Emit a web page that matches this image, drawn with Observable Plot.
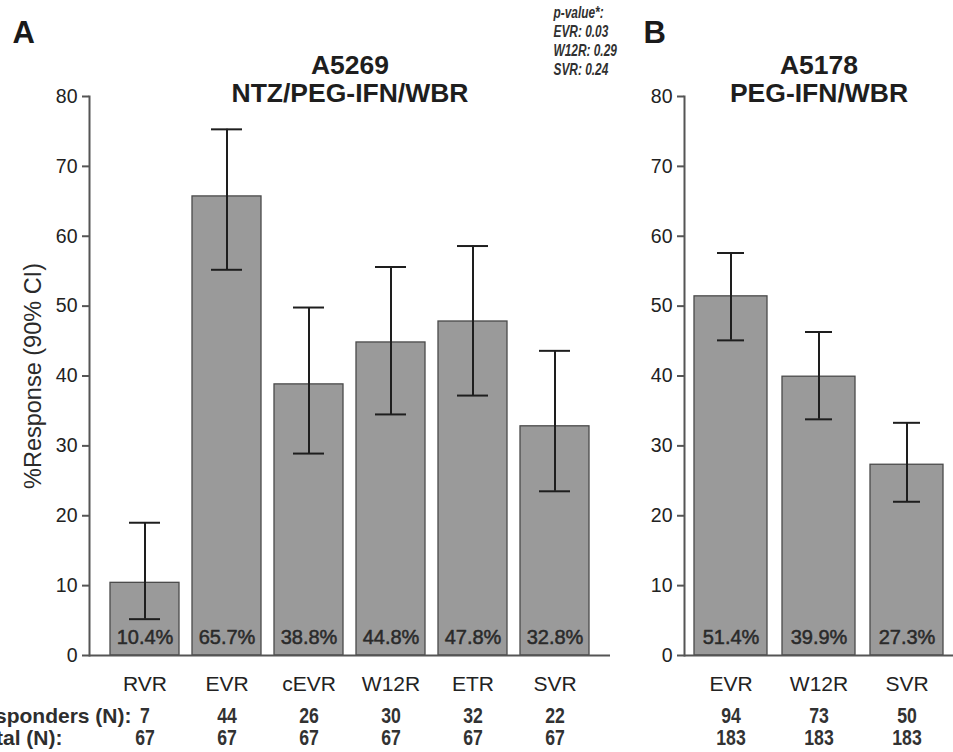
<!DOCTYPE html>
<html>
<head>
<meta charset="utf-8">
<script src="https://cdn.jsdelivr.net/npm/d3@7"></script>
<script src="https://cdn.jsdelivr.net/npm/@observablehq/plot@0.6"></script>
<style>
  body { margin: 0; background: #fff; }
  #wrap { position: relative; width: 953px; height: 752px; overflow: hidden; background: #fff; }
  #wrap svg { position: absolute; top: 0; overflow: visible; }
</style>
</head>
<body>
<div id="wrap"></div>
<script>
// ---- Panel A data (A5269 NTZ/PEG-IFN/WBR) ----
const catsA = ["RVR", "EVR", "cEVR", "W12R", "ETR", "SVR"];
const valsA = [10.4, 65.7, 38.8, 44.8, 47.8, 32.8];
const loA   = [5.2, 55.2, 28.9, 34.5, 37.2, 23.5];
const hiA   = [19.0, 75.3, 49.8, 55.6, 58.6, 43.6];
const respA = [7, 44, 26, 30, 32, 22];
const totA  = [67, 67, 67, 67, 67, 67];

// ---- Panel B data (A5178 PEG-IFN/WBR) ----
const catsB = ["EVR", "W12R", "SVR"];
const valsB = [51.4, 39.9, 27.3];
const loB   = [45.1, 33.8, 22.0];
const hiB   = [57.6, 46.3, 33.3];
const respB = [94, 73, 50];
const totB  = [183, 183, 183];

// ---- p-values ----
const pCats = ["EVR", "W12R", "SVR"];
const pVals = ["0.03", "0.29", "0.24"];

const yTicks = [0, 10, 20, 30, 40, 50, 60, 70, 80];

const FONT = "'Liberation Sans', Arial, Helvetica, sans-serif";
const NUMFILL = "#323232";   // marker colour for condensed texts (numbers)
const PFILL = "#313131";     // marker colour for condensed p-value texts

function rows(cats, vals, lo, hi, resp, tot) {
  return cats.map((c, i) => ({cat: c, val: vals[i], lo: lo[i], hi: hi[i], resp: resp[i], tot: tot[i]}));
}

function panel({data, cats, width, marginLeft, marginRight, padIn, padOut, capInset,
                letter, letterDx, title1, title2, yLabel, rowLabels, extra = []}) {
  return Plot.plot({
    width, height: 752,
    marginLeft, marginRight, marginTop: 96, marginBottom: 97,
    style: {fontFamily: FONT, color: "#222", background: "transparent"},
    x: {domain: cats, paddingInner: padIn, paddingOuter: padOut, axis: null},
    y: {domain: [0, 80], axis: null},
    marks: [
      Plot.barY(data, {x: "cat", y: "val", fill: "#9a9a9a", stroke: "#4a4a4a", strokeWidth: 1.3}),
      Plot.ruleX(data, {x: "cat", y1: "lo", y2: "hi", stroke: "#1e1e1e", strokeWidth: 2}),
      Plot.tickY(data, {x: "cat", y: "lo", stroke: "#1e1e1e", strokeWidth: 2, insetLeft: capInset, insetRight: capInset}),
      Plot.tickY(data, {x: "cat", y: "hi", stroke: "#1e1e1e", strokeWidth: 2, insetLeft: capInset, insetRight: capInset}),
      Plot.text(data, {x: "cat", y: 0, text: d => d.val.toFixed(1) + "%", dy: -18, lineAnchor: "middle",
                       fontSize: 20, fill: "#2a2a2a", stroke: "#2a2a2a", strokeWidth: 0.5}),
      Plot.frame({anchor: "left", stroke: "#555", strokeWidth: 2}),
      Plot.ruleY([0], {stroke: "#555", strokeWidth: 2}),
      Plot.axisY({ticks: yTicks, tickSize: 7, tickPadding: 5, fontSize: 19.5, stroke: "#555", strokeWidth: 2, fill: "#222", label: null}),
      Plot.axisX({tickSize: 0, tickPadding: 21, fontSize: 21, fill: "#222", label: null}),
      Plot.text(data, {x: "cat", frameAnchor: "bottom", text: "resp", dy: 61, lineAnchor: "middle",
                       fontWeight: "bold", fontSize: 21.5, fill: NUMFILL}),
      Plot.text(data, {x: "cat", frameAnchor: "bottom", text: "tot", dy: 83, lineAnchor: "middle",
                       fontWeight: "bold", fontSize: 21.5, fill: NUMFILL}),
      Plot.text([letter], {frameAnchor: "top-left", dx: letterDx, dy: -54, textAnchor: "start", lineAnchor: "bottom",
                           fontSize: 31, fontWeight: "bold", fill: "#1a1a1a"}),
      Plot.text([title1], {frameAnchor: "top", dy: -23, lineAnchor: "bottom", fontSize: 26.5, fontWeight: "bold", fill: "#1e1e1e"}),
      Plot.text([title2], {frameAnchor: "top", dy: 5, lineAnchor: "bottom", fontSize: 26.5, fontWeight: "bold", fill: "#1e1e1e"}),
      yLabel ? Plot.text([yLabel], {frameAnchor: "left", dx: -56, rotate: -90, textAnchor: "middle", lineAnchor: "middle",
                                    fontSize: 23.5, fill: "#2a2a2a"}) : null,
      rowLabels ? Plot.text([rowLabels[0]], {frameAnchor: "bottom-left", dx: 42, dy: 61, textAnchor: "end", lineAnchor: "middle",
                                             fontSize: 21, fontWeight: "bold", fill: "#2e2e2e"}) : null,
      rowLabels ? Plot.text([rowLabels[1]], {frameAnchor: "bottom-left", dx: -27, dy: 83, textAnchor: "end", lineAnchor: "middle",
                                             fontSize: 21, fontWeight: "bold", fill: "#2e2e2e"}) : null,
      ...extra
    ]
  });
}

const pLines = ["p-value*:", ...pCats.map((c, i) => `${c}: ${pVals[i]}`)];

const svgA = panel({
  data: rows(catsA, valsA, loA, hiA, respA, totA), cats: catsA,
  width: 620, marginLeft: 89, marginRight: 10, padIn: 0.16, padOut: 0.23, capInset: 19,
  letter: "A", letterDx: -77, title1: "A5269", title2: "NTZ/PEG-IFN/WBR",
  yLabel: "%Response (90% CI)", rowLabels: ["Responders (N):", "Total (N):"],
  extra: pLines.map((s, i) => Plot.text([s], {frameAnchor: "top-left", dx: 464, dy: -79 + i * 19.3,
                        textAnchor: "start", lineAnchor: "bottom", fontStyle: "italic", fontWeight: "bold",
                        fontSize: 16.5, fill: PFILL}))
});
svgA.style.left = "0px";

const svgB = panel({
  data: rows(catsB, valsB, loB, hiB, respB, totB), cats: catsB,
  width: 333, marginLeft: 64, marginRight: 0, padIn: 0.17, padOut: 0.11, capInset: 23,
  letter: "B", letterDx: -41, title1: "A5178", title2: "PEG-IFN/WBR",
  yLabel: null, rowLabels: null
});
svgB.style.left = "620px";

const wrap = document.getElementById("wrap");
wrap.appendChild(svgA);
wrap.appendChild(svgB);

// narrow the number rows and the p-value block (reference uses a condensed face)
function condense(svg, fill, factor) {
  d3.select(svg).selectAll(`g[fill="${fill}"] text`).each(function () {
    const len = this.getComputedTextLength();
    if (len > 0) {
      this.setAttribute("textLength", (len * factor).toFixed(2));
      this.setAttribute("lengthAdjust", "spacingAndGlyphs");
    }
  });
}
for (const svg of [svgA, svgB]) condense(svg, NUMFILL, 0.82);
condense(svgA, PFILL, 0.72);
</script>
</body>
</html>
